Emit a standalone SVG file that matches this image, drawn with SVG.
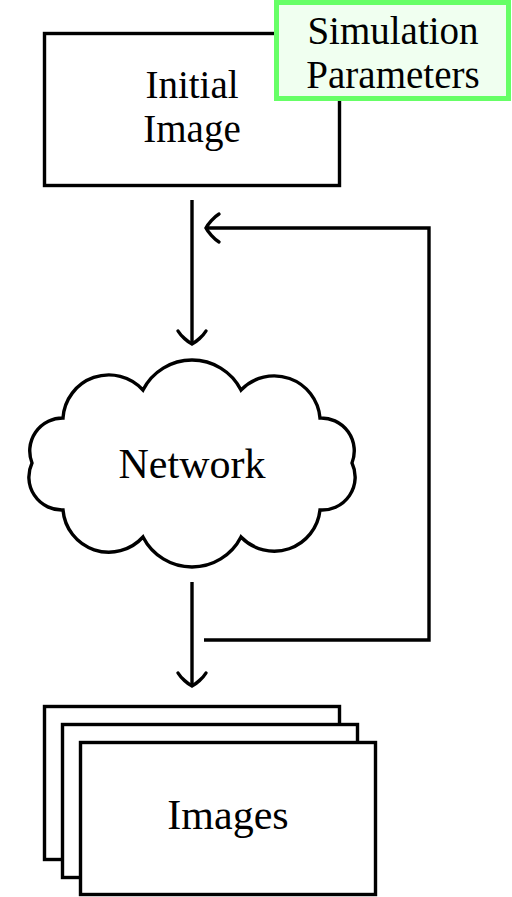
<svg xmlns="http://www.w3.org/2000/svg" width="512" height="897" viewBox="0 0 512 897">
<style>
.box{fill:#fff;stroke:#000;stroke-width:3.4}
.lbl{font-family:"Liberation Serif","DejaVu Serif",serif;font-size:42px;fill:#000;text-anchor:middle}
.two{font-size:39px}
.line{fill:none;stroke:#000;stroke-width:3.4}
</style>
<defs>
<marker id="arr" markerUnits="userSpaceOnUse" viewBox="-16 -17 20 34" markerWidth="20" markerHeight="34" refX="0" refY="0" orient="auto" overflow="visible">
<path d="M-13,-14 C-8,-11 -2,-4 0,0 C-2,4 -8,11 -13,14" fill="none" stroke="#000" stroke-width="3.4" stroke-linecap="round"/>
</marker>
</defs>
<rect width="512" height="897" fill="#fff"/>
<g id="initial-image">
<rect class="box" x="44.5" y="33.5" width="295" height="152"/>
<text class="lbl two" x="192" y="98">Initial</text>
<text class="lbl two" x="192" y="142">Image</text>
</g>
<g id="simulation-parameters">
<rect x="276.5" y="2.5" width="232" height="96" fill="#f0fff0" stroke="#66ff66" stroke-width="5"/>
<text class="lbl two" x="393" y="44">Simulation</text>
<text class="lbl two" x="393" y="88">Parameters</text>
</g>
<g id="network">
<path class="box" d="M143,390 A55,55 0 0 1 241,390 A46,46 0 0 1 320,418 A33,33 0 0 1 352,463 A33,33 0 0 1 320,510 A46,46 0 0 1 241,537 A55,55 0 0 1 143,537 A46,46 0 0 1 63,510 A33,33 0 0 1 32,463 A33,33 0 0 1 63,418 A46,46 0 0 1 143,390 Z"/>
<text class="lbl" x="192" y="478">Network</text>
</g>
<g id="images">
<rect class="box" x="44.5" y="706.5" width="295" height="153"/>
<rect class="box" x="62.5" y="724.5" width="295" height="153"/>
<rect class="box" x="80.5" y="742.5" width="295" height="152"/>
<text class="lbl" x="228" y="829">Images</text>
</g>
<g id="connectors">
<path class="line" d="M192,200 L192,344" marker-end="url(#arr)"/>
<path class="line" d="M192,582 L192,686" marker-end="url(#arr)"/>
<path class="line" d="M204,640 L429,640 L429,228 L206,228" marker-end="url(#arr)"/>
</g>
</svg>
